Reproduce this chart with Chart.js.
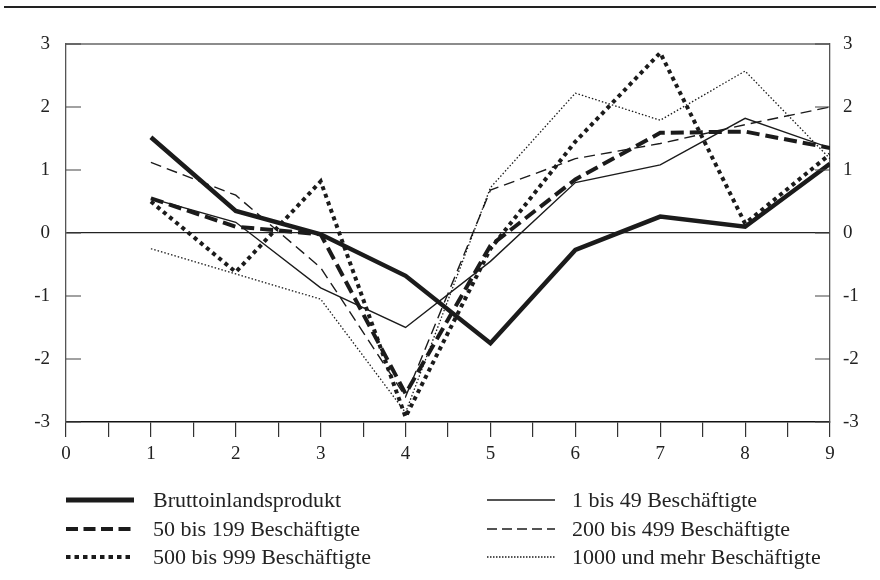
<!DOCTYPE html>
<html>
<head>
<meta charset="utf-8">
<script src="https://cdn.jsdelivr.net/npm/chart.js@4.4.1/dist/chart.umd.min.js"></script>
<style>
  html, body { margin: 0; padding: 0; background: #fff; }
  #wrap { position: relative; width: 880px; height: 580px; }
  #legend { position: absolute; left: 0; top: 0; width: 880px; height: 580px; pointer-events: none;
    font-family: "Liberation Serif", "Times New Roman", serif; font-size: 22px; color: #222; }
  .item { position: absolute; height: 28px; display: flex; align-items: center; white-space: nowrap; }
</style>
</head>
<body>
<div id="wrap">
  <canvas id="chart" width="880" height="580"></canvas>
  <div id="legend"></div>
</div>
<script>
// Daten
const categories = [1, 2, 3, 4, 5, 6, 7, 8, 9];
const seriesNames = [
  'Bruttoinlandsprodukt',
  '1 bis 49 Beschäftigte',
  '50 bis 199 Beschäftigte',
  '200 bis 499 Beschäftigte',
  '500 bis 999 Beschäftigte',
  '1000 und mehr Beschäftigte'
];
const bip      = [1.52, 0.35, -0.02, -0.68, -1.75, -0.27, 0.26, 0.10, 1.10];
const b1bis49  = [0.55, 0.17, -0.87, -1.50, -0.45, 0.80, 1.08, 1.82, 1.35];
const b50bis199 = [0.55, 0.10, -0.02, -2.55, -0.20, 0.85, 1.59, 1.61, 1.35];
const b200bis499 = [1.12, 0.60, -0.55, -2.60, 0.68, 1.18, 1.42, 1.72, 2.00];
const b500bis999 = [0.50, -0.62, 0.82, -2.92, -0.25, 1.45, 2.86, 0.15, 1.25];
const b1000plus = [-0.25, -0.65, -1.05, -2.85, 0.72, 2.22, 1.79, 2.57, 1.18];
const xTicks = [0, 1, 2, 3, 4, 5, 6, 7, 8, 9];
const yTicks = [-3, -2, -1, 0, 1, 2, 3];

const ink = '#1b1b1b';
const styles = [
  { width: 4.5, dash: [] },
  { width: 1.4, dash: [] },
  { width: 4, dash: [13, 6] },
  { width: 1.4, dash: [11, 6] },
  { width: 4, dash: [4, 4] },
  { width: 1.3, dash: [1.5, 2] }
];
const legendDash = [[], [], [12, 5.5], [10, 5], [4.5, 4], [1.5, 1.5]];
const allValues = [bip, b1bis49, b50bis199, b200bis499, b500bis999, b1000plus];

const datasets = allValues.map((vals, i) => ({
  label: seriesNames[i],
  data: categories.map((c, j) => ({ x: c, y: vals[j] })),
  borderColor: ink,
  borderWidth: styles[i].width,
  borderDash: styles[i].dash,
  pointRadius: 0,
  tension: 0,
  fill: false
}));

const font = { family: '"Liberation Serif", "Times New Roman", serif', size: 19 };

// Rahmen, Linie oben, Ticks nach innen
const framePlugin = {
  id: 'frame',
  afterDraw(chart) {
    const ctx = chart.ctx;
    const a = chart.chartArea;
    const y = chart.scales.y;
    ctx.save();
    ctx.strokeStyle = '#222';
    ctx.lineWidth = 2;
    ctx.beginPath();
    ctx.moveTo(4, 7); ctx.lineTo(876, 7);
    ctx.stroke();
    ctx.strokeStyle = '#666';
    ctx.lineWidth = 1.3;
    ctx.beginPath();
    ctx.moveTo(a.left, a.top); ctx.lineTo(a.right, a.top);
    ctx.stroke();
    ctx.strokeStyle = '#444';
    ctx.lineWidth = 1.2;
    yTicks.forEach(v => {
      const py = y.getPixelForValue(v);
      ctx.beginPath();
      ctx.moveTo(a.left, py); ctx.lineTo(a.left + 15, py);
      ctx.moveTo(a.right, py); ctx.lineTo(a.right - 15, py);
      ctx.stroke();
    });
    ctx.restore();
  }
};

new Chart(document.getElementById('chart'), {
  type: 'line',
  data: { datasets },
  options: {
    responsive: false,
    animation: false,
    layout: { padding: { top: 44, left: 0, right: 0, bottom: 0 } },
    plugins: { legend: { display: false }, tooltip: { enabled: false } },
    scales: {
      x: {
        type: 'linear',
        min: 0, max: 9,
        afterFit(s) { s.height = 158; },
        border: { display: true, color: '#111', width: 1.5 },
        grid: { drawOnChartArea: false, drawTicks: true, tickLength: 15, color: '#333', lineWidth: 1.2 },
        ticks: {
          stepSize: 0.5, autoSkip: false, maxRotation: 0, padding: 6,
          color: '#222', font,
          callback: v => xTicks.includes(v) ? String(v) : ''
        }
      },
      y: {
        position: 'left',
        min: -3, max: 3,
        afterFit(s) { s.width = 66; },
        border: { display: true, color: '#555', width: 1.3 },
        grid: {
          drawTicks: false,
          color: c => (c.tick && c.tick.value === 0) ? '#222' : 'rgba(0,0,0,0)',
          lineWidth: 1.2
        },
        ticks: { stepSize: 1, padding: 16, color: '#222', font }
      },
      y2: {
        position: 'right',
        min: -3, max: 3,
        afterFit(s) { s.width = 50; },
        border: { display: true, color: '#555', width: 1.3 },
        grid: { drawOnChartArea: false, drawTicks: false },
        ticks: { stepSize: 1, padding: 13, color: '#222', font }
      }
    }
  },
  plugins: [framePlugin]
});

// Legende als HTML
const rowsY = [500, 529, 557];
const colX = [66, 487];
const sampleW = 68;
const legendTextX = [153, 572];
const legendEl = document.getElementById('legend');
seriesNames.forEach((name, i) => {
  const col = i % 2;
  const row = Math.floor(i / 2);
  const st = styles[i];
  const div = document.createElement('div');
  div.className = 'item';
  div.style.left = colX[col] + 'px';
  div.style.top = (rowsY[row] - 14) + 'px';
  const svgW = legendTextX[col] - colX[col];
  const dash = legendDash[i].length ? legendDash[i].join(' ') : 'none';
  div.innerHTML =
    '<svg width="' + svgW + '" height="28"><line x1="0" y1="14" x2="' + sampleW + '" y2="14" stroke="' + ink +
    '" stroke-width="' + (i === 0 ? 5 : st.width) + '" stroke-dasharray="' + dash +
    '"/></svg><span>' + name + '</span>';
  legendEl.appendChild(div);
});
</script>
</body>
</html>
